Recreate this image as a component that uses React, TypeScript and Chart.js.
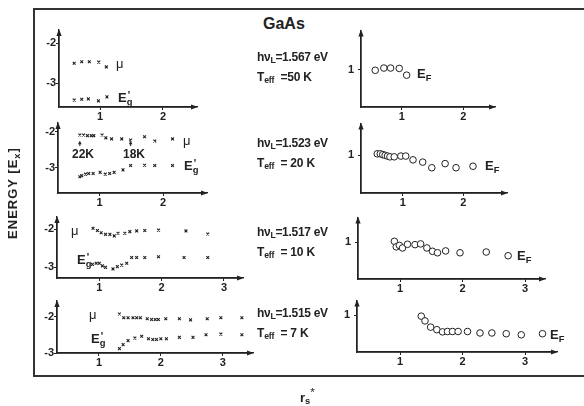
import React, { useEffect, useRef } from 'react';
import { Chart, registerables } from 'chart.js';

// ---------- data ----------
// panel 1 : hvL = 1.567 eV, Teff = 50 K
const mu1X = [0.59, 0.71, 0.83, 0.98, 1.1];
const mu1Y = [-2.5, -2.46, -2.46, -2.47, -2.59];
const eg1X = [0.59, 0.71, 0.815, 0.975, 1.11];
const eg1Y = [-3.42, -3.4, -3.39, -3.44, -3.34];
const ef1X = [0.57, 0.71, 0.82, 0.96, 1.08];
const ef1Y = [0.98, 1.04, 1.04, 1.03, 0.85];

// panel 2 : hvL = 1.523 eV, Teff = 20 K
const mu2X = [0.69, 0.75, 0.81, 0.87, 0.91, 1.04, 1.1, 1.19, 1.35, 1.49, 1.71, 1.87, 2.15];
const mu2Y = [-2.09, -2.09, -2.11, -2.11, -2.11, -2.09, -2.17, -2.2, -2.2, -2.23, -2.14, -2.26, -2.2];
const eg2X = [0.69, 0.72, 0.78, 0.83, 0.9, 1.01, 1.09, 1.16, 1.23, 1.37, 1.49, 1.71, 1.87, 2.15];
const eg2Y = [-3.25, -3.22, -3.18, -3.16, -3.16, -3.13, -3.18, -3.16, -3.13, -3.06, -2.94, -2.93, -2.94, -2.94];
const ef2X = [0.58, 0.63, 0.67, 0.71, 0.75, 0.79, 0.86, 0.97, 1.05, 1.17, 1.33, 1.48, 1.7, 1.88, 2.16];
const ef2Y = [1.04, 1.04, 1.02, 1.0, 0.98, 0.96, 0.96, 0.98, 0.98, 0.88, 0.82, 0.67, 0.78, 0.67, 0.71];
const tempMarkX = [0.69, 1.49];
const tempMarkLabels = ['22K', '18K'];
const tempMarkFrom = -2.4;
const tempMarkTo = -2.25;

// panel 3 : hvL = 1.517 eV, Teff = 10 K
const mu3X = [0.9, 0.97, 1.03, 1.1, 1.17, 1.24, 1.3, 1.41, 1.49, 1.6, 1.73, 1.95, 2.39, 2.74];
const mu3Y = [-1.98, -2.04, -2.1, -2.14, -2.14, -2.18, -2.11, -2.11, -2.07, -2.05, -2.04, -2.03, -2.05, -2.13];
const eg3X = [0.89, 0.95, 1.0, 1.05, 1.1, 1.22, 1.29, 1.36, 1.44, 1.52, 1.6, 1.73, 1.95, 2.36, 2.74];
const eg3Y = [-2.93, -2.9, -2.9, -2.97, -3.01, -3.05, -2.99, -2.95, -2.9, -2.75, -2.75, -2.75, -2.73, -2.75, -2.75];
const ef3X = [0.91, 0.94, 0.99, 1.04, 1.12, 1.24, 1.33, 1.43, 1.52, 1.6, 1.73, 1.96, 2.38, 2.73];
const ef3Y = [1.02, 0.87, 0.91, 0.84, 0.94, 0.93, 0.95, 0.84, 0.75, 0.71, 0.76, 0.71, 0.73, 0.63];

// panel 4 : hvL = 1.515 eV, Teff = 7 K
const mu4X = [1.33, 1.4, 1.47, 1.55, 1.61, 1.67, 1.78, 1.85, 1.91, 1.96, 2.08, 2.3, 2.48, 2.75, 2.97, 3.31];
const mu4Y = [-1.93, -2.03, -2.03, -2.03, -2.03, -2.03, -2.06, -2.08, -2.08, -2.08, -2.06, -2.06, -2.09, -2.06, -2.03, -2.03];
const eg4X = [1.33, 1.39, 1.47, 1.58, 1.69, 1.8, 1.87, 1.93, 2.0, 2.09, 2.3, 2.52, 2.73, 2.97, 3.31];
const eg4Y = [-2.88, -2.77, -2.66, -2.59, -2.54, -2.61, -2.63, -2.63, -2.61, -2.61, -2.57, -2.57, -2.5, -2.48, -2.5];
const ef4X = [1.34, 1.4, 1.49, 1.59, 1.68, 1.76, 1.84, 1.93, 2.08, 2.28, 2.47, 2.7, 2.94, 3.28];
const ef4Y = [0.98, 0.85, 0.68, 0.61, 0.55, 0.56, 0.56, 0.56, 0.56, 0.52, 0.52, 0.5, 0.47, 0.5];

// tick labels
const xTicksShort = [1, 2];
const xTicksLong = [1, 2, 3];
const yTicksEnergy = [-2, -3];
const yTicksFermi = [1];

// texts
const photonEnergies = ['1.567', '1.523', '1.517', '1.515'];
const effTemps = ['=50 K', '= 20 K', '= 10 K', '= 7 K'];

// ---------- drawing ----------
const FONT = "'Liberation Sans', Arial, Helvetica, sans-serif";
const INK = '#222222';
const YW = 26;
const XH = 20;
const PT = 10;
const PR = 8;

const axisArrows = {
  id: 'axisArrows',
  afterDraw(chart: any, _args: any, opts: any) {
    const { ctx, chartArea: a } = chart;
    ctx.save();
    ctx.fillStyle = INK;
    ctx.strokeStyle = INK;
    ctx.lineWidth = 1.3;
    ctx.beginPath();
    ctx.moveTo(a.left, a.top + 3);
    ctx.lineTo(a.left, a.bottom);
    ctx.lineTo(a.right - 3, a.bottom);
    ctx.stroke();
    ctx.beginPath();
    ctx.moveTo(a.left, a.top - 1);
    ctx.lineTo(a.left - 2.6, a.top + 6);
    ctx.lineTo(a.left + 2.6, a.top + 6);
    ctx.closePath();
    ctx.fill();
    ctx.beginPath();
    ctx.moveTo(a.right + 1, a.bottom);
    ctx.lineTo(a.right - 6, a.bottom - 2.6);
    ctx.lineTo(a.right - 6, a.bottom + 2.6);
    ctx.closePath();
    ctx.fill();
    const ms = opts && opts.markers ? opts.markers : [];
    for (let i = 0; i < ms.length; i++) {
      const m = ms[i];
      const x = chart.scales.x.getPixelForValue(m.x);
      const y0 = chart.scales.y.getPixelForValue(m.y0);
      const y1 = chart.scales.y.getPixelForValue(m.y1);
      ctx.lineWidth = 1;
      ctx.beginPath();
      ctx.moveTo(x, y0);
      ctx.lineTo(x, y1 + 2);
      ctx.stroke();
      ctx.beginPath();
      ctx.moveTo(x, y1);
      ctx.lineTo(x - 1.8, y1 + 3.5);
      ctx.lineTo(x + 1.8, y1 + 3.5);
      ctx.closePath();
      ctx.fill();
    }
    ctx.restore();
  },
};

Chart.register(...registerables, axisArrows);

function pts(xs: number[], ys: number[]) {
  return xs.map((x, i) => ({ x, y: ys[i] }));
}

function makeSet(kind: string, xs: number[], ys: number[]) {
  if (kind === 'cross') {
    return {
      data: pts(xs, ys), pointStyle: 'crossRot', pointRadius: 2, pointHoverRadius: 2,
      borderColor: INK, backgroundColor: INK, borderWidth: 1.1,
    };
  }
  return {
    data: pts(xs, ys), pointStyle: 'circle', pointRadius: 3.3, pointHoverRadius: 3.3,
    borderColor: INK, backgroundColor: '#ffffff', borderWidth: 1,
  };
}

function Panel({ cfg }: any) {
  const ref = useRef<HTMLCanvasElement | null>(null);
  const W = cfg.rx - cfg.ox + YW + PR;
  const H = cfg.oy - cfg.ty + PT + XH;
  useEffect(() => {
    if (!ref.current) return;
    const tickFont = { family: FONT, size: 11, weight: 'bold' as const };
    const datasets = cfg.series.map((s: any) => makeSet(cfg.kind, s[0], s[1]));
    const markers = cfg.markers ? cfg.markers.map((m: any) => ({ x: m.x, y0: m.y0, y1: m.y1 })) : [];
    const chart = new Chart(ref.current, {
      type: 'scatter',
      data: { datasets },
      options: {
        animation: false,
        responsive: false,
        devicePixelRatio: 1,
        events: [],
        layout: { padding: { top: PT, right: PR, left: 0, bottom: 0 } },
        plugins: {
          legend: { display: false },
          tooltip: { enabled: false },
          axisArrows: { markers },
        } as any,
        scales: {
          x: {
            type: 'linear', min: cfg.xMin, max: cfg.xMax,
            afterFit: (s: any) => { s.height = XH; },
            afterBuildTicks: (s: any) => { s.ticks = cfg.xTicks.map((v: number) => ({ value: v })); },
            ticks: { font: tickFont, color: INK, padding: 0, callback: (v: any) => String(v) },
            grid: { display: true, drawOnChartArea: false, drawTicks: true, tickLength: 3, color: INK, lineWidth: 1 },
            border: { display: true, color: INK, width: 1.3 },
          },
          y: {
            type: 'linear', min: cfg.yMin, max: cfg.yMax,
            afterFit: (s: any) => { s.width = YW; },
            afterBuildTicks: (s: any) => { s.ticks = cfg.yTicks.map((v: number) => ({ value: v })); },
            ticks: { font: tickFont, color: INK, padding: cfg.yPad, callback: (v: any) => String(v) },
            grid: { display: true, drawOnChartArea: false, drawTicks: true, tickLength: 3, color: INK, lineWidth: 1 },
            border: { display: true, color: INK, width: 1.3 },
          },
        },
      } as any,
    });
    return () => chart.destroy();
  }, []);
  return (
    <canvas
      ref={ref}
      width={W}
      height={H}
      style={{ position: 'absolute', left: cfg.ox - YW, top: cfg.ty - PT, width: W, height: H }}
    />
  );
}

function Lbl({ x, y, size = 12, bold = true, children }: any) {
  return (
    <div
      style={{
        position: 'absolute', left: x, top: y - size / 2, height: size,
        fontSize: size, fontWeight: bold ? 'bold' : 'normal', lineHeight: 1, whiteSpace: 'nowrap',
      }}
    >
      {children}
    </div>
  );
}

const Sub = ({ children }: any) => (
  <span style={{ fontSize: '0.72em', verticalAlign: '-0.28em' }}>{children}</span>
);

const EgLabel = () => (
  <span>
    E<Sub>g</Sub>
    <span style={{ fontSize: '0.8em', verticalAlign: '0.35em', marginLeft: '-0.45em' }}>'</span>
  </span>
);
const EfLabel = () => (
  <span>
    E<Sub>F</Sub>
  </span>
);

const LEFT = [
  { ox: 59, oy: 107, ty: 30, rx: 197, xMin: 0.349, xMax: 2.54, yMin: -3.593, yMax: -1.667, xTicks: xTicksShort, series: [[mu1X, mu1Y], [eg1X, eg1Y]] },
  { ox: 58, oy: 193, ty: 123, rx: 207, xMin: 0.346, xMax: 2.693, yMin: -3.703, yMax: -1.758, xTicks: xTicksShort, series: [[mu2X, mu2Y], [eg2X, eg2Y]],
    markers: tempMarkX.map((x) => ({ x, y0: tempMarkFrom, y1: tempMarkTo })) },
  { ox: 57, oy: 278, ty: 217, rx: 243, xMin: 0.322, xMax: 3.305, yMin: -3.289, yMax: -1.684, xTicks: xTicksLong, series: [[mu3X, mu3Y], [eg3X, eg3Y]] },
  { ox: 57, oy: 353, ty: 301, rx: 253, xMin: 0.321, xMax: 3.49, yMin: -3.0, yMax: -1.571, xTicks: xTicksLong, series: [[mu4X, mu4Y], [eg4X, eg4Y]] },
].map((c) => ({ ...c, kind: 'cross', yTicks: yTicksEnergy, yPad: 0 }));

const RIGHT = [
  { ox: 361, oy: 107, ty: 30, rx: 495, xMin: 0.339, xMax: 2.515, yMin: 0, yMax: 2.04, xTicks: xTicksShort, series: [[ef1X, ef1Y]] },
  { ox: 361, oy: 193, ty: 123, rx: 507, xMin: 0.312, xMax: 2.721, yMin: 0, yMax: 1.842, xTicks: xTicksShort, series: [[ef2X, ef2Y]] },
  { ox: 358, oy: 279, ty: 217, rx: 545, xMin: 0.328, xMax: 3.32, yMin: 0, yMax: 1.662, xTicks: xTicksLong, series: [[ef3X, ef3Y]] },
  { ox: 357, oy: 352, ty: 300, rx: 557, xMin: 0.312, xMax: 3.512, yMin: 0, yMax: 1.405, xTicks: xTicksLong, series: [[ef4X, ef4Y]] },
].map((c) => ({ ...c, kind: 'circle', yTicks: yTicksFermi, yPad: 4 }));

export default function App() {
  const muPos = [[116, 63], [183, 140], [71, 230], [89, 314]];
  const egPos = [[118, 97], [184, 165], [77, 259], [91, 338]];
  const efPos = [[417, 73], [485, 165], [517, 255], [550, 334]];
  const hvY = [57, 143, 232, 313];
  const tY = [77, 163, 252, 333];
  const markLblPos = [[72, 154], [123, 154]];

  return (
    <div
      style={{
        position: 'fixed', left: 0, top: 0, width: 584, height: 406, background: '#fff',
        overflow: 'hidden', fontFamily: FONT, color: INK,
      }}
    >
      <div style={{ position: 'absolute', left: 33, top: 8, width: 560, height: 1.5, background: '#333' }} />
      <div style={{ position: 'absolute', left: 33, top: 375, width: 560, height: 1.5, background: '#333' }} />
      <div style={{ position: 'absolute', left: 33, top: 8, width: 1.5, height: 368, background: '#333' }} />

      {LEFT.map((c, i) => <Panel key={'l' + i} cfg={c} />)}
      {RIGHT.map((c, i) => <Panel key={'r' + i} cfg={c} />)}

      {muPos.map((p, i) => (
        <Lbl key={'mu' + i} x={p[0]} y={p[1]} size={13} bold={false}>μ</Lbl>
      ))}
      {egPos.map((p, i) => (
        <Lbl key={'eg' + i} x={p[0]} y={p[1]} size={13}><EgLabel /></Lbl>
      ))}
      {efPos.map((p, i) => (
        <Lbl key={'ef' + i} x={p[0]} y={p[1]} size={13}><EfLabel /></Lbl>
      ))}
      {markLblPos.map((p, i) => (
        <Lbl key={'mk' + i} x={p[0]} y={p[1]} size={12}>{tempMarkLabels[i]}</Lbl>
      ))}

      <Lbl x={263} y={24} size={16}>GaAs</Lbl>
      {photonEnergies.map((e, i) => (
        <Lbl key={'hv' + i} x={257} y={hvY[i]} size={12}>
          <span style={{ letterSpacing: '-0.3px' }}>hν<Sub>L</Sub>={e} eV</span>
        </Lbl>
      ))}
      {effTemps.map((t, i) => (
        <Lbl key={'t' + i} x={257} y={tY[i]} size={12}>
          <span style={{ letterSpacing: '-0.2px' }}>T<Sub>eff</Sub>&nbsp;&nbsp;{t}</span>
        </Lbl>
      ))}

      <div
        style={{
          position: 'absolute', left: 14, top: 193, transform: 'translate(-50%,-50%) rotate(-90deg)',
          fontSize: 13, fontWeight: 'bold', whiteSpace: 'nowrap', letterSpacing: '1px', lineHeight: 1,
        }}
      >
        ENERGY [E<Sub>x</Sub>]
      </div>
      <div style={{ position: 'absolute', left: 300, top: 386, fontSize: 13, fontWeight: 'bold', lineHeight: 1, whiteSpace: 'nowrap' }}>
        r<Sub>s</Sub>
        <span style={{ fontSize: '0.9em', verticalAlign: '0.5em', fontWeight: 'normal' }}>*</span>
      </div>
    </div>
  );
}
